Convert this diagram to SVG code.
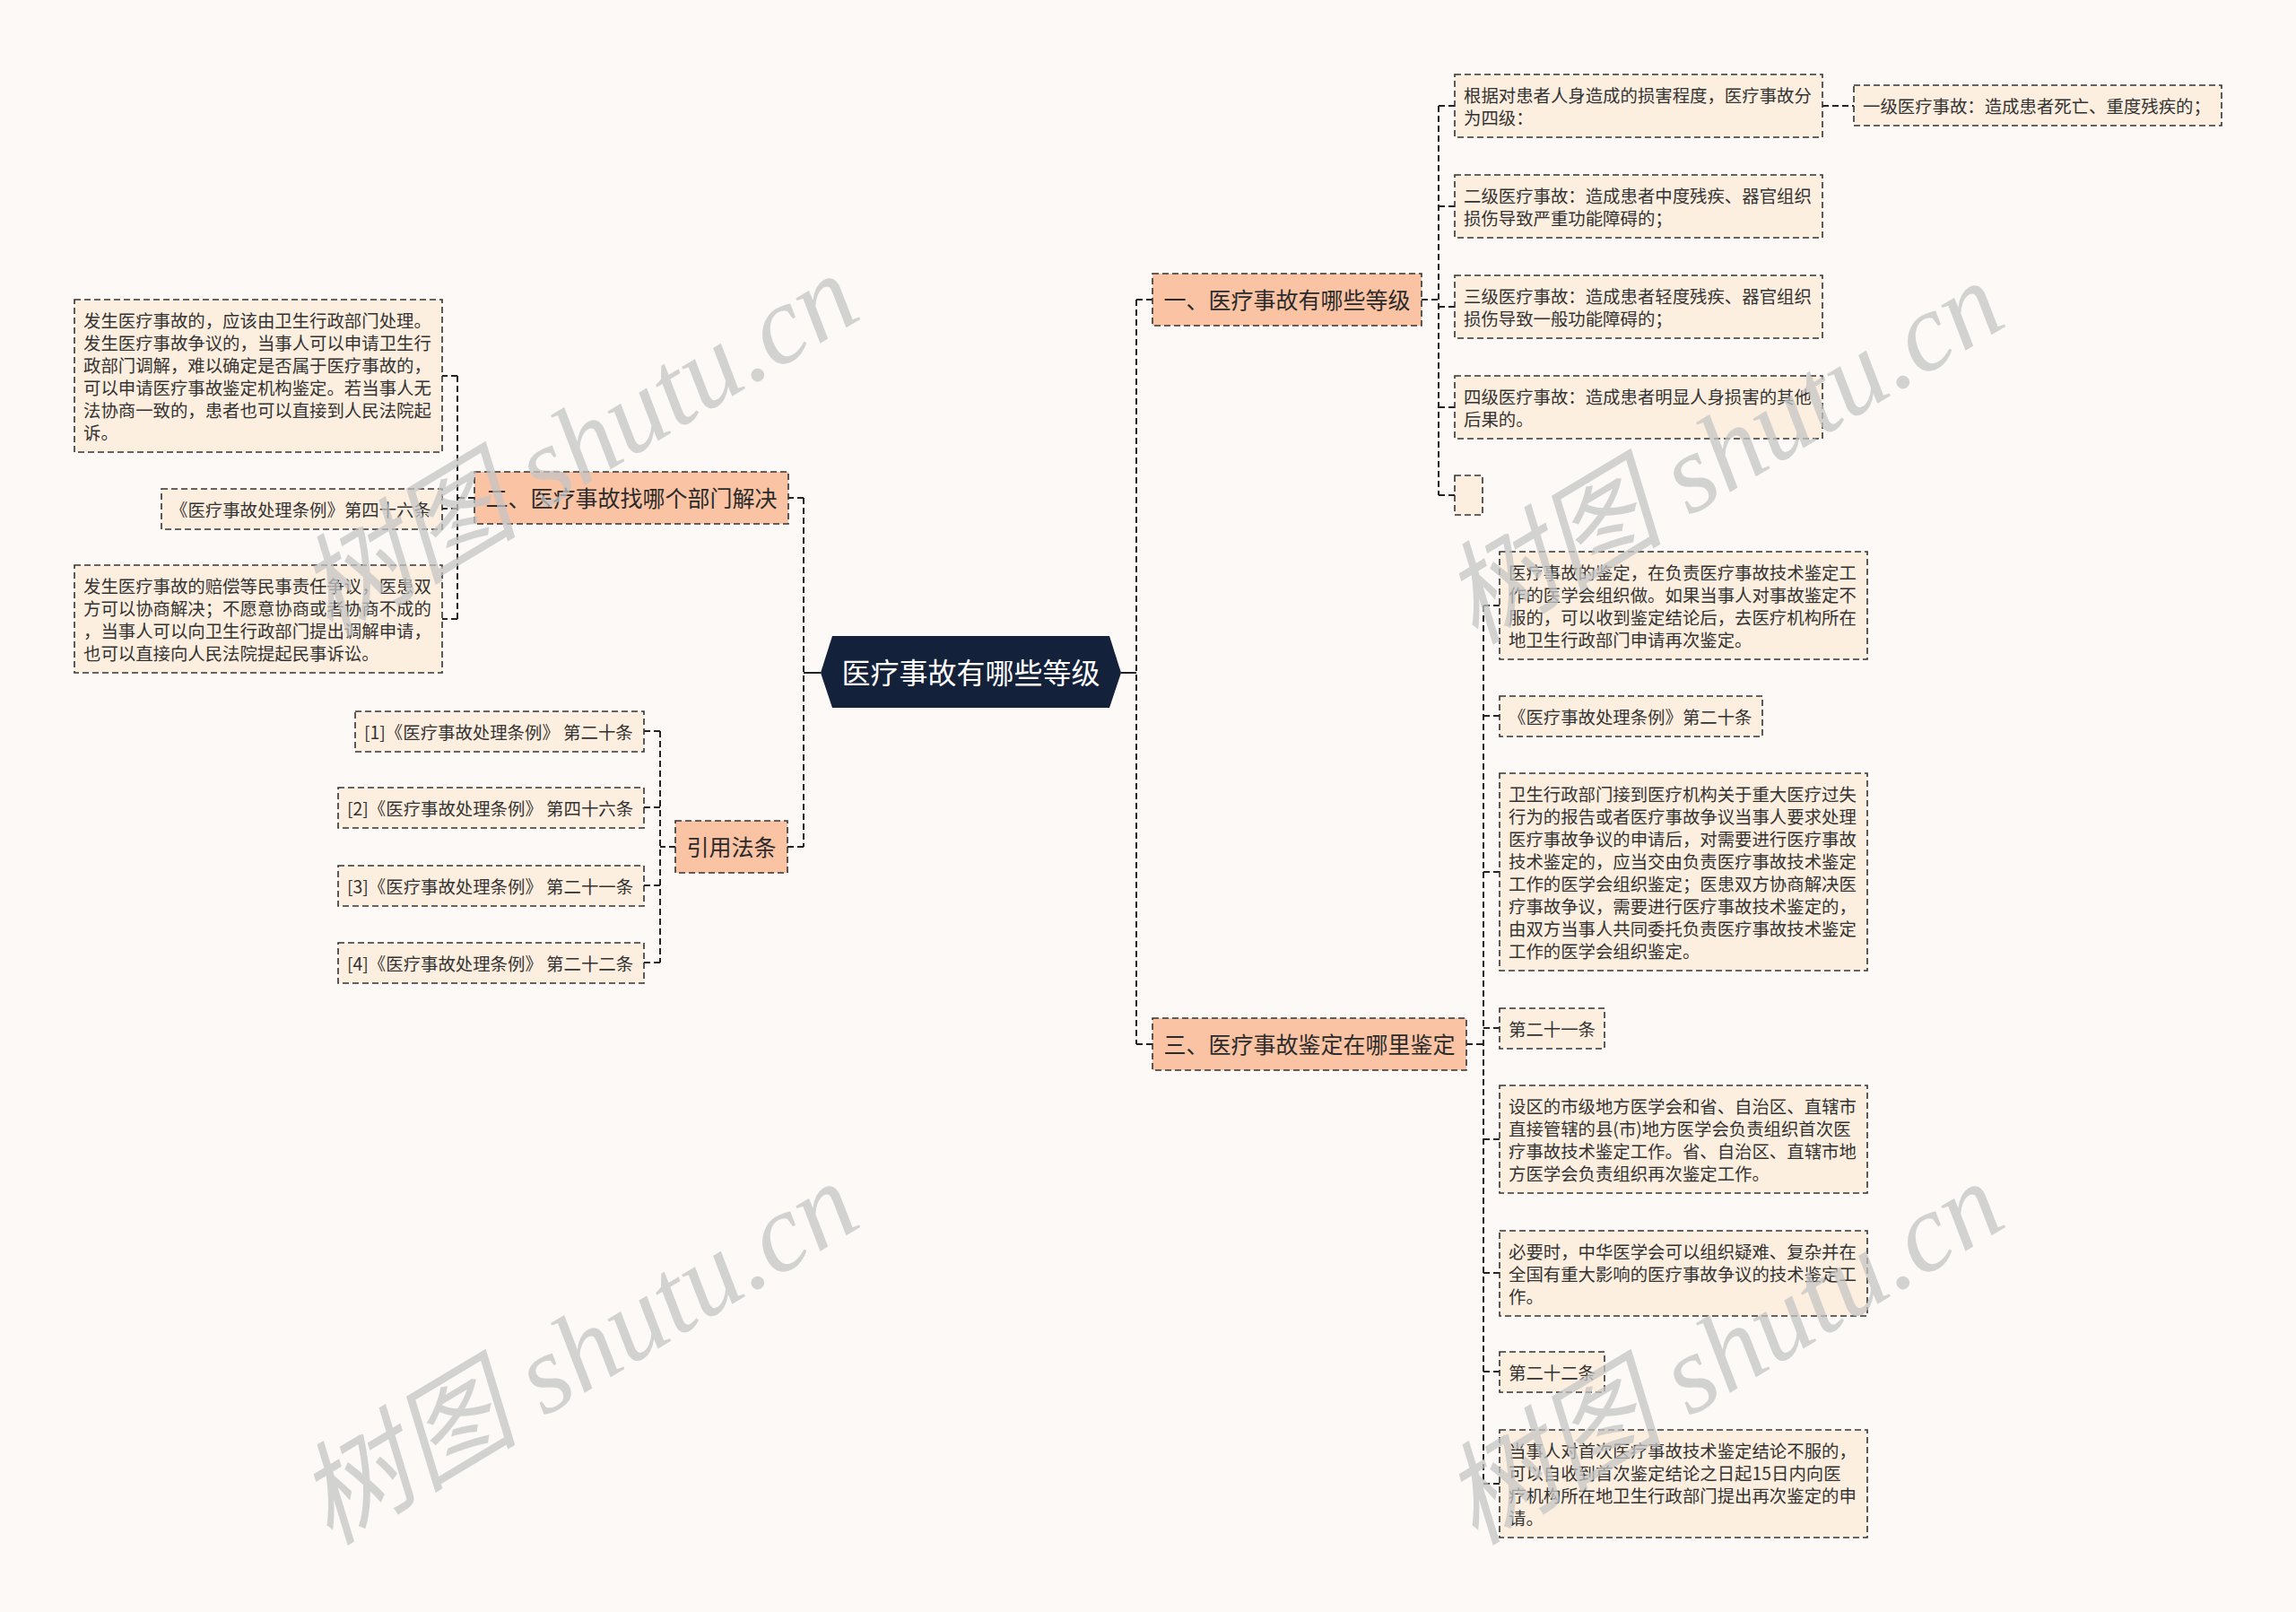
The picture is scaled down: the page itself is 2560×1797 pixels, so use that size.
<svg xmlns="http://www.w3.org/2000/svg" width="2560" height="1797" viewBox="0 0 2560 1797">
<style>
.bg{fill:#fcf9f7}
.lvl1 rect{fill:#f9c3a4;stroke:#333;stroke-width:1.6;stroke-dasharray:7 4}
.lvl1 text{font-family:"Noto Sans CJK SC",sans-serif;font-size:25px;fill:#2b2b2b;text-anchor:middle}
.leaf rect{fill:#fdefdf;stroke:#333;stroke-width:1.6;stroke-dasharray:7 4}
.leaf text{font-family:"Noto Sans CJK SC",sans-serif;font-size:19.4px;fill:#333}
.conn path{fill:none;stroke:#222;stroke-width:2;stroke-dasharray:7 4}
.conn path.solid{stroke-dasharray:none}
.wm{font-family:"Liberation Serif","Noto Sans CJK SC",serif;font-style:italic;font-size:124px;fill:#c4c4c4;fill-opacity:0.75;text-anchor:middle}
</style>
<rect class="bg" x="0" y="0" width="2560" height="1797"/>

<g id="connectors" class="conn">
<path class="solid" d="M915,750 H896"/>
<path class="solid" d="M1250,750 H1267"/>
<path d="M896,555 V944 M896,555 H879 M896,944 H878"/>
<path d="M1267,334 V1164 M1267,334 H1285 M1267,1164 H1285"/>
<path d="M1585,334 H1604 M1604,118 V552 M1604,118 H1622 M1604,230 H1622 M1604,342 H1622 M1604,454 H1622 M1604,552 H1622"/>
<path d="M2032,118 H2067"/>
<path d="M1635,1164 H1654 M1654,675 V1654 M1654,675 H1672 M1654,798 H1672 M1654,972 H1672 M1654,1146 H1672 M1654,1270 H1672 M1654,1419 H1672 M1654,1529 H1672 M1654,1654 H1672"/>
<path d="M529,555 H510 M510,419 V690 M510,419 H493 M510,567 H493 M510,690 H493"/>
<path d="M753,944 H736 M736,815 V1073 M736,815 H718 M736,900 H718 M736,987 H718 M736,1073 H718"/>
</g>

<g id="root">
<polygon points="915,750 928,709 1237,709 1250,750 1237,789 928,789" fill="#13213a"/>
<text x="1082.5" y="762" font-family="Noto Sans CJK SC,sans-serif" font-size="32" fill="#ffffff" text-anchor="middle">医疗事故有哪些等级</text>
</g>

<g id="n1" class="lvl1"><rect x="1285" y="305" width="300" height="58"/><text x="1435" y="344">一、医疗事故有哪些等级</text></g>
<g id="n2" class="lvl1"><rect x="529" y="526" width="350" height="58"/><text x="704" y="565">二、医疗事故找哪个部门解决</text></g>
<g id="n3" class="lvl1"><rect x="1285" y="1135" width="350" height="58"/><text x="1460" y="1174">三、医疗事故鉴定在哪里鉴定</text></g>
<g id="n4" class="lvl1"><rect x="753" y="915" width="125" height="58"/><text x="815.5" y="954">引用法条</text></g>

<g id="n1a" class="leaf"><rect x="1622" y="83" width="410" height="70"/><text x="1632" y="114">根据对患者人身造成的损害程度，医疗事故分<tspan x="1632" dy="25">为四级：</tspan></text></g>
<g id="n1a1" class="leaf"><rect x="2067" y="95" width="410" height="45"/><text x="2077" y="126">一级医疗事故：造成患者死亡、重度残疾的；</text></g>
<g id="n1b" class="leaf"><rect x="1622" y="195" width="410" height="70"/><text x="1632" y="226">二级医疗事故：造成患者中度残疾、器官组织<tspan x="1632" dy="25">损伤导致严重功能障碍的；</tspan></text></g>
<g id="n1c" class="leaf"><rect x="1622" y="307" width="410" height="70"/><text x="1632" y="338">三级医疗事故：造成患者轻度残疾、器官组织<tspan x="1632" dy="25">损伤导致一般功能障碍的；</tspan></text></g>
<g id="n1d" class="leaf"><rect x="1622" y="419" width="410" height="70"/><text x="1632" y="450">四级医疗事故：造成患者明显人身损害的其他<tspan x="1632" dy="25">后果的。</tspan></text></g>
<g id="n1e" class="leaf"><rect x="1622" y="530" width="31" height="44"/></g>

<g id="n3a" class="leaf"><rect x="1672" y="615" width="410" height="120"/><text x="1682" y="646">医疗事故的鉴定，在负责医疗事故技术鉴定工<tspan x="1682" dy="25">作的医学会组织做。如果当事人对事故鉴定不</tspan><tspan x="1682" dy="25">服的，可以收到鉴定结论后，去医疗机构所在</tspan><tspan x="1682" dy="25">地卫生行政部门申请再次鉴定。</tspan></text></g>
<g id="n3b" class="leaf"><rect x="1672" y="776" width="293" height="45"/><text x="1682" y="807">《医疗事故处理条例》第二十条</text></g>
<g id="n3c" class="leaf"><rect x="1672" y="862" width="410" height="220"/><text x="1682" y="893">卫生行政部门接到医疗机构关于重大医疗过失<tspan x="1682" dy="25">行为的报告或者医疗事故争议当事人要求处理</tspan><tspan x="1682" dy="25">医疗事故争议的申请后，对需要进行医疗事故</tspan><tspan x="1682" dy="25">技术鉴定的，应当交由负责医疗事故技术鉴定</tspan><tspan x="1682" dy="25">工作的医学会组织鉴定；医患双方协商解决医</tspan><tspan x="1682" dy="25">疗事故争议，需要进行医疗事故技术鉴定的，</tspan><tspan x="1682" dy="25">由双方当事人共同委托负责医疗事故技术鉴定</tspan><tspan x="1682" dy="25">工作的医学会组织鉴定。</tspan></text></g>
<g id="n3d" class="leaf"><rect x="1672" y="1124" width="117" height="45"/><text x="1682" y="1155">第二十一条</text></g>
<g id="n3e" class="leaf"><rect x="1672" y="1210" width="410" height="120"/><text x="1682" y="1241">设区的市级地方医学会和省、自治区、直辖市<tspan x="1682" dy="25">直接管辖的县(市)地方医学会负责组织首次医</tspan><tspan x="1682" dy="25">疗事故技术鉴定工作。省、自治区、直辖市地</tspan><tspan x="1682" dy="25">方医学会负责组织再次鉴定工作。</tspan></text></g>
<g id="n3f" class="leaf"><rect x="1672" y="1372" width="410" height="95"/><text x="1682" y="1403">必要时，中华医学会可以组织疑难、复杂并在<tspan x="1682" dy="25">全国有重大影响的医疗事故争议的技术鉴定工</tspan><tspan x="1682" dy="25">作。</tspan></text></g>
<g id="n3g" class="leaf"><rect x="1672" y="1507" width="117" height="45"/><text x="1682" y="1538">第二十二条</text></g>
<g id="n3h" class="leaf"><rect x="1672" y="1594" width="410" height="120"/><text x="1682" y="1625">当事人对首次医疗事故技术鉴定结论不服的，<tspan x="1682" dy="25">可以自收到首次鉴定结论之日起15日内向医</tspan><tspan x="1682" dy="25">疗机构所在地卫生行政部门提出再次鉴定的申</tspan><tspan x="1682" dy="25">请。</tspan></text></g>

<g id="n2a" class="leaf"><rect x="83" y="334" width="410" height="170"/><text x="93" y="365">发生医疗事故的，应该由卫生行政部门处理。<tspan x="93" dy="25">发生医疗事故争议的，当事人可以申请卫生行</tspan><tspan x="93" dy="25">政部门调解，难以确定是否属于医疗事故的，</tspan><tspan x="93" dy="25">可以申请医疗事故鉴定机构鉴定。若当事人无</tspan><tspan x="93" dy="25">法协商一致的，患者也可以直接到人民法院起</tspan><tspan x="93" dy="25">诉。</tspan></text></g>
<g id="n2b" class="leaf"><rect x="180" y="545" width="313" height="45"/><text x="190" y="576">《医疗事故处理条例》第四十六条</text></g>
<g id="n2c" class="leaf"><rect x="83" y="630" width="410" height="120"/><text x="93" y="661">发生医疗事故的赔偿等民事责任争议，医患双<tspan x="93" dy="25">方可以协商解决；不愿意协商或者协商不成的</tspan><tspan x="93" dy="25">，当事人可以向卫生行政部门提出调解申请，</tspan><tspan x="93" dy="25">也可以直接向人民法院提起民事诉讼。</tspan></text></g>

<g id="n4a" class="leaf"><rect x="396" y="793" width="322" height="45"/><text x="406" y="824">[1]《医疗事故处理条例》 第二十条</text></g>
<g id="n4b" class="leaf"><rect x="377" y="878" width="341" height="45"/><text x="387" y="909">[2]《医疗事故处理条例》 第四十六条</text></g>
<g id="n4c" class="leaf"><rect x="377" y="965" width="341" height="45"/><text x="387" y="996">[3]《医疗事故处理条例》 第二十一条</text></g>
<g id="n4d" class="leaf"><rect x="377" y="1051" width="341" height="45"/><text x="387" y="1082">[4]《医疗事故处理条例》 第二十二条</text></g>

<g id="watermarks">
<text class="wm" transform="translate(645,498) rotate(-31)" y="40">树图 shutu.cn</text>
<text class="wm" transform="translate(1922,506) rotate(-31)" y="40">树图 shutu.cn</text>
<text class="wm" transform="translate(645,1510) rotate(-31)" y="40">树图 shutu.cn</text>
<text class="wm" transform="translate(1922,1510) rotate(-31)" y="40">树图 shutu.cn</text>
</g>
</svg>
